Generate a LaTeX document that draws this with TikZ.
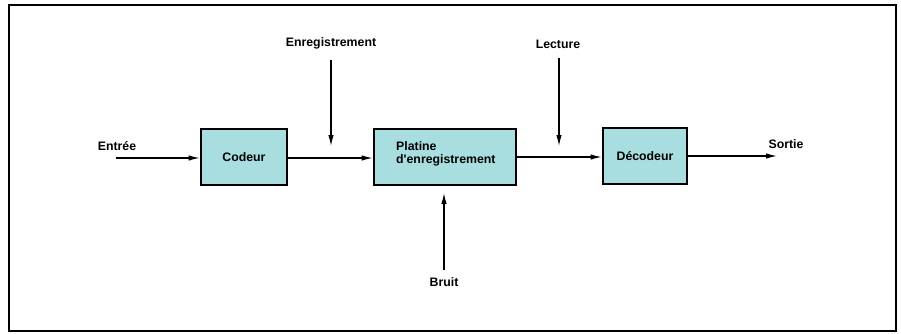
\documentclass[tikz,border=0pt]{standalone}
\usepackage{fontspec}
\setmainfont{Liberation Sans}[Ligatures=TeXOff]
\usetikzlibrary{arrows.meta}
\definecolor{boxfill}{RGB}{168,222,224}
\tikzset{
  blockbox/.style={draw=black, line width=2.8pt, fill=boxfill, minimum height=56pt, inner sep=0pt, font=\fontsize{12.3}{14}\selectfont\bfseries},
  lbl/.style={font=\fontsize{12.3}{14}\selectfont\bfseries, inner sep=0pt},
  conn/.style={line width=1.2pt, -{Latex[length=11pt,width=5.5pt]}}
}
\begin{document}
\begin{tikzpicture}[x=1pt,y=-1pt]
\useasboundingbox (0,0) rectangle (901,333);
\draw[line width=1.6pt] (9,5) rectangle (896,331);
\node[blockbox, minimum width=86pt] (cod) at (244,157) {Codeur};
\node[blockbox, minimum width=142pt] (plat) at (445,157) {};
\node[lbl, align=left, anchor=west] at (396,154) {Platine\\[-1pt]d'enregistrement};
\node[blockbox, minimum width=84pt] (dec) at (645,156) {Décodeur};
\node[lbl] (entree) at (117,146) {Entrée};
\node[lbl] (sortie) at (786,144) {Sortie};
\node[lbl] (enreg) at (331,43) {Enregistrement};
\node[lbl] (lect) at (558,44) {Lecture};
\node[lbl] (bruit) at (444,282) {Bruit};
\coordinate (in) at (116,158);
\coordinate (out) at (777,156);
\coordinate (enA) at (331,60);
\coordinate (enB) at (331,146);
\coordinate (leA) at (559,58);
\coordinate (leB) at (559,146);
\coordinate (brA) at (444,270);
\coordinate (brB) at (444,193);
\draw[conn] (in) -- (cod.west |- in);
\draw[conn] (cod.east |- 0,158) -- (plat.west |- 0,158);
\draw[conn] (plat.east |- 0,157) -- (dec.west |- 0,157);
\draw[conn] (dec.east |- out) -- (out);
\draw[conn] (enA) -- (enB);
\draw[conn] (leA) -- (leB);
\draw[conn] (brA) -- (brB);
\end{tikzpicture}
\end{document}
